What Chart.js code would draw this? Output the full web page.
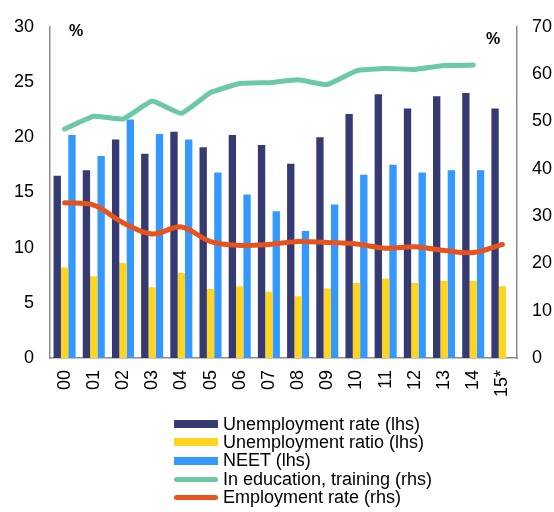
<!DOCTYPE html>
<html><head><meta charset="utf-8">
<script src="https://cdn.jsdelivr.net/npm/chart.js@4/dist/chart.umd.min.js"></script>
<style>
html,body{margin:0;padding:0;background:#fff;}
#wrap{position:relative;width:554px;height:512px;font-family:"Liberation Sans",Arial,sans-serif;}
canvas{position:absolute;left:0;top:0;}
.pct{position:absolute;font-weight:bold;font-size:16px;color:#000;}
#legend{position:absolute;left:174px;top:415px;font-size:18px;color:#000;}
.li{display:flex;align-items:center;height:18.3px;white-space:nowrap;}
.sw{width:44px;margin-right:5px;}
</style></head><body>
<div id="wrap">
<canvas id="c" width="554" height="512"></canvas>
<div class="pct" style="left:69px;top:22px;">%</div>
<div class="pct" style="left:486px;top:30px;">%</div>
<div id="legend"></div>
</div>
<script>
const categories = ["00","01","02","03","04","05","06","07","08","09","10","11","12","13","14","15*"];
const unemploymentRate = [16.5,17.0,19.8,18.5,20.5,19.1,20.2,19.3,17.6,20.0,22.1,23.9,22.6,23.7,24.0,22.6];
const unemploymentRatio = [8.2,7.4,8.6,6.4,7.7,6.25,6.5,6.0,5.6,6.3,6.8,7.2,6.8,7.0,7.0,6.5];
const neet = [20.2,18.3,21.6,20.3,19.8,16.8,14.8,13.3,11.5,13.9,16.6,17.5,16.8,17.0,17.0,null];
const inEducation = [48.4,51.1,50.5,54.3,51.7,56.1,58.0,58.2,58.8,57.8,60.7,61.2,61.0,61.8,61.9,null];
const employmentRate = [32.8,32.3,28.6,26.2,27.7,24.6,23.8,24.0,24.6,24.4,24.1,23.2,23.5,22.7,22.3,24.0];
const leftTicks = [0,5,10,15,20,25,30];
const rightTicks = [0,10,20,30,40,50,60,70];

const C = {navy:'#353a72', yellow:'#ffd520', blue:'#3399ff', green:'#6cc9a5', orange:'#e8531c'};
const font = {family:'"Liberation Sans", Arial, sans-serif', size:18};

const datasets = [
  {type:'line', label:'In education, training (rhs)', data:inEducation, yAxisID:'y1', borderColor:C.green, backgroundColor:C.green, borderWidth:5, pointRadius:0, tension:0.1, order:0, borderCapStyle:'round', borderJoinStyle:'round'},
  {type:'line', label:'Employment rate (rhs)', data:employmentRate, yAxisID:'y1', borderColor:C.orange, backgroundColor:C.orange, borderWidth:5, pointRadius:0, tension:0.35, order:0, borderCapStyle:'round', borderJoinStyle:'round'},
  {type:'bar', label:'Unemployment rate (lhs)', data:unemploymentRate, yAxisID:'y', backgroundColor:C.navy, order:1, barPercentage:1, categoryPercentage:0.755},
  {type:'bar', label:'Unemployment ratio (lhs)', data:unemploymentRatio, yAxisID:'y', backgroundColor:C.yellow, order:1, barPercentage:1, categoryPercentage:0.755},
  {type:'bar', label:'NEET (lhs)', data:neet, yAxisID:'y', backgroundColor:C.blue, order:1, barPercentage:1, categoryPercentage:0.755}
];

new Chart(document.getElementById('c'), {
  data:{labels:categories, datasets:datasets},
  options:{
    responsive:false, animation:false, devicePixelRatio:1,
    layout:{padding:{top:22,bottom:104,left:0,right:0}},
    plugins:{legend:{display:false}, tooltip:{enabled:false}},
    scales:{
      x:{grid:{display:false, drawTicks:false}, border:{display:true,color:'#8c8c8c',width:1.5},
         ticks:{color:'#000', font:font, minRotation:90, maxRotation:90, padding:12, autoSkip:false},
         afterFit(s){s.height=50;}},
      y:{position:'left', min:0, max:30, grid:{display:false, drawTicks:false}, border:{display:true,color:'#8c8c8c',width:1.5},
         afterBuildTicks(s){s.ticks = leftTicks.map(v=>({value:v}));},
         ticks:{color:'#000', font:font, padding:16},
         afterFit(s){s.width=50;}},
      y1:{position:'right', min:0, max:70, grid:{display:false, drawTicks:false}, border:{display:true,color:'#8c8c8c',width:1.5},
         afterBuildTicks(s){s.ticks = rightTicks.map(v=>({value:v}));},
         ticks:{color:'#000', font:font, padding:15},
         afterFit(s){s.width=37;}}
    }
  }
});

const legendOrder = [2,3,4,0,1];
const lg = document.getElementById('legend');
legendOrder.forEach(i=>{
  const d = datasets[i];
  const row = document.createElement('div'); row.className='li';
  const sw = document.createElement('div'); sw.className='sw';
  if(d.type==='bar'){ sw.style.height='8px'; sw.style.background=d.backgroundColor; }
  else { sw.style.height='5px'; sw.style.background=d.borderColor; sw.style.borderRadius='3px'; }
  const t = document.createElement('span'); t.textContent=d.label;
  row.appendChild(sw); row.appendChild(t); lg.appendChild(row);
});
</script>
</body></html>
